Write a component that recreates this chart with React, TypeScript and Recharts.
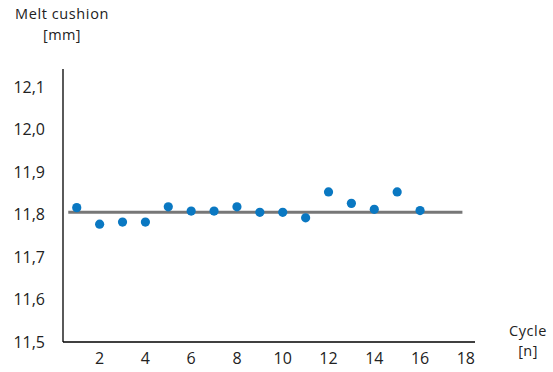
import React from "react";
import { ScatterChart, Scatter, XAxis, YAxis, ReferenceLine, Customized } from "recharts";

const cycles = [1, 2, 3, 4, 5, 6, 7, 8, 9, 10, 11, 12, 13, 14, 15, 16];
const cushion = [11.816, 11.777, 11.782, 11.782, 11.818, 11.808, 11.808, 11.818, 11.805, 11.805, 11.792, 11.853, 11.826, 11.812, 11.853, 11.809];
const xTicks = [2, 4, 6, 8, 10, 12, 14, 16, 18];
const yTicks = [11.5, 11.6, 11.7, 11.8, 11.9, 12.0, 12.1];
const setpoint = 11.805;
const setpointRange = [0.63, 17.85];

const data = cycles.map((c, i) => ({ cycle: c, value: cushion[i] }));

const FONT = "'Open Sans', sans-serif";
const TEXT = "#222";

const Dot = (props: any) => <circle cx={props.cx} cy={props.cy} r={4.6} fill="#0a78c2" />;

const Titles = () => (
  <g fontFamily={FONT} fill={TEXT} fontSize={14.5}>
    <text x={62} y={19} textAnchor="middle" letterSpacing={0.6}>Melt cushion</text>
    <text x={62} y={39.5} textAnchor="middle" letterSpacing={0.4}>[mm]</text>
    <text x={528} y={335.5} textAnchor="middle" letterSpacing={0.6}>Cycle</text>
    <text x={528} y={356} textAnchor="middle" letterSpacing={0.4}>[n]</text>
  </g>
);

export default function App() {
  return (
    <div style={{ position: "absolute", left: 0, top: 0, width: 553, height: 372, background: "#fff" }}>
      <ScatterChart width={553} height={372} margin={{ top: 69, right: 78, bottom: 0, left: 0 }}>
        <XAxis
          type="number"
          dataKey="cycle"
          domain={[0.4, 18.4]}
          ticks={xTicks}
          allowDataOverflow
          height={30}
          tickLine={false}
          tickSize={0}
          tickMargin={11}
          axisLine={{ stroke: "#000", strokeWidth: 1.3 }}
          tick={{ fontFamily: FONT, fontSize: 16, fill: TEXT }}
        />
        <YAxis
          type="number"
          dataKey="value"
          domain={[11.5, 12.142]}
          ticks={yTicks}
          allowDataOverflow
          width={63}
          tickLine={false}
          tickSize={0}
          tickMargin={18}
          axisLine={{ stroke: "#000", strokeWidth: 1.3 }}
          tickFormatter={(v: number) => v.toFixed(1).replace(".", ",")}
          tick={{ fontFamily: FONT, fontSize: 16, fill: TEXT }}
        />
        <ReferenceLine
          segment={[{ x: setpointRange[0], y: setpoint }, { x: setpointRange[1], y: setpoint }]}
          stroke="#777"
          strokeWidth={3}
        />
        <Scatter data={data} shape={Dot} isAnimationActive={false} />
        <Customized component={Titles} />
      </ScatterChart>
    </div>
  );
}
